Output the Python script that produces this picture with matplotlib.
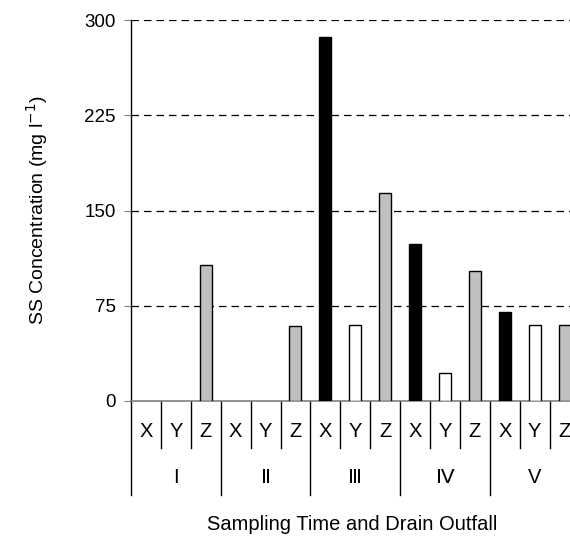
import numpy as np
import matplotlib.pyplot as plt

plt.rcParams['font.family'] = ['Liberation Sans', 'DejaVu Sans']

times = ['I', 'Ⅱ', 'Ⅲ', 'Ⅳ', 'V']
outfalls = ['X', 'Y', 'Z']
# SS concentration per sampling time, for outfalls X, Y, Z
ss_x = [0, 0, 287, 124, 70]
ss_y = [0, 0, 60, 22, 60]
ss_z = [107, 59, 164, 102, 60]
yticks = [0, 75, 150, 225, 300]

fig = plt.figure(figsize=(5.70, 5.41), dpi=100)
ax = fig.add_axes([0.2298, 0.2588, 0.787, 0.7042])

n = len(times)
vals = np.array([ss_x, ss_y, ss_z]).T.ravel()
cols = np.array(['black', 'white', '#c0c0c0'] * n)
pos = np.arange(n * 3) + 0.5
keep = vals > 0  # empty slots draw nothing
ax.bar(pos[keep], vals[keep], width=0.4, color=cols[keep], edgecolor='black',
       linewidth=1.0, zorder=3)

ax.set_xlim(0, n * 3)
ax.set_ylim(0, 300)
ax.set_yticks(yticks)
ax.set_yticklabels([str(v) for v in yticks], fontsize=13.5)
ax.tick_params(axis='y', length=5, color='#808080', pad=6)
ax.set_xticks([])
for v in yticks[1:]:
    ax.axhline(v, color='black', lw=0.9, ls=(0, (6, 4)), zorder=1)

for s in ['top', 'right']:
    ax.spines[s].set_visible(False)
ax.spines['bottom'].set_color('#808080')
ax.spines['bottom'].set_linewidth(1.2)
ax.spines['left'].set_linewidth(1.0)

tr = ax.get_xaxis_transform()
# separators and category labels below the axis
for i in range(n * 3 + 1):
    y1 = -0.247 if i % 3 == 0 else -0.123
    ax.plot([i, i], [0, y1], color='black', lw=1.0, transform=tr, clip_on=False)
for i in range(n * 3):
    ax.text(i + 0.5, -0.079, outfalls[i % 3], transform=tr, ha='center', va='center', fontsize=14.5)
for j, t in enumerate(times):
    ax.text(j * 3 + 1.5, -0.2, t, transform=tr, ha='center', va='center', fontsize=14.5)

ax.set_ylabel('SS Concentration (mg l$^{-1}$)', fontsize=14)
ax.yaxis.set_label_coords(-0.181, 0.5)
fig.text(352 / 570, 1 - 524 / 541, 'Sampling Time and Drain Outfall', ha='center', va='center', fontsize=14.5)

plt.savefig('out.png', dpi=100)
